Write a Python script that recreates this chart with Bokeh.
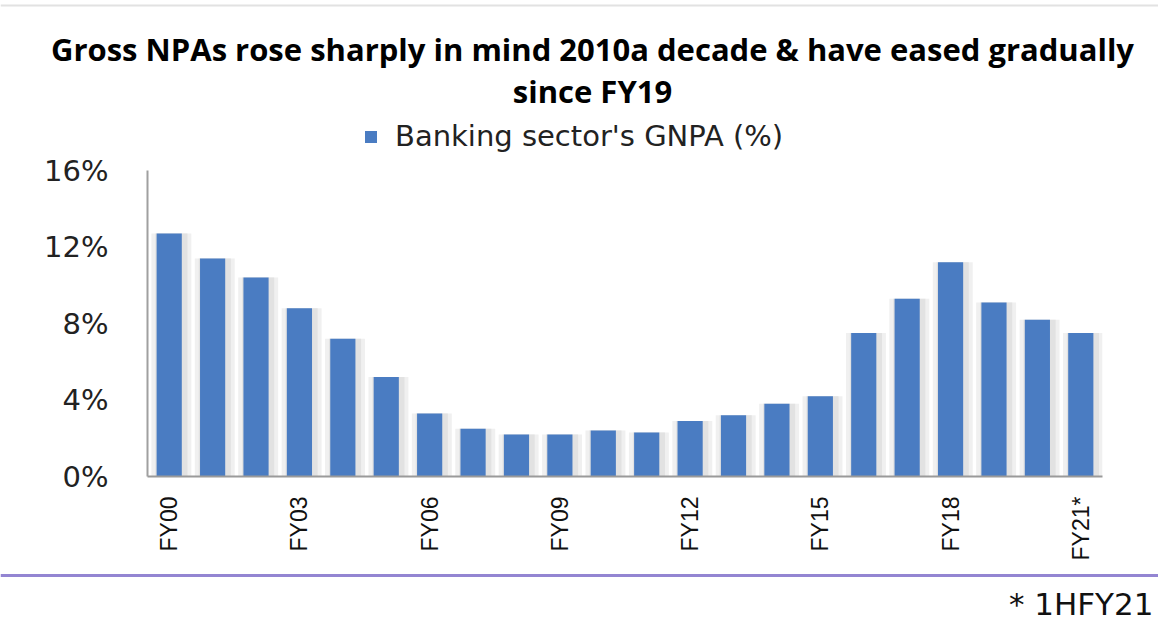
import math
from bokeh.plotting import figure
from bokeh.layouts import column
from bokeh.models import (Range1d, FixedTicker, PrintfTickFormatter, Label, Span,
                          Legend, LegendItem, ColumnDataSource)
from bokeh.transform import dodge
from bokeh.embed import file_html
from bokeh.resources import INLINE

# ---- data ----
years = ["FY00", "FY01", "FY02", "FY03", "FY04", "FY05", "FY06", "FY07", "FY08", "FY09", "FY10",
         "FY11", "FY12", "FY13", "FY14", "FY15", "FY16", "FY17", "FY18", "FY19", "FY20", "FY21*"]
gnpa = [12.7, 11.4, 10.4, 8.8, 7.2, 5.2, 3.3, 2.5, 2.2, 2.2, 2.4,
        2.3, 2.9, 3.2, 3.8, 4.2, 7.5, 9.3, 11.2, 9.1, 8.2, 7.5]
shown_labels = ["FY00", "FY03", "FY06", "FY09", "FY12", "FY15", "FY18", "FY21*"]
y_ticks = [0, 4, 8, 12, 16]
title_lines = ["Gross NPAs rose sharply in mind 2010a decade & have eased gradually", "since FY19"]
legend_label = "Banking sector's GNPA (%)"
footnote = "* 1HFY21"

W = 1158
H_HEAD, H_MAIN, H_FOOT = 110, 460, 53


def strip(h):
    fig = figure(x_range=Range1d(0, W), y_range=Range1d(0, h), width=W, height=h,
                 output_backend="svg", toolbar_location=None, x_axis_location=None,
                 y_axis_location=None, min_border=0)
    fig.frame_align = False
    fig.outline_line_color = None
    fig.xgrid.grid_line_color = None
    fig.ygrid.grid_line_color = None
    return fig


# ---- header with the two title lines ----
hd = strip(H_HEAD)
hd.add_layout(Span(location=H_HEAD - 5, dimension="width", line_color="#e2e2e2", line_width=2))
for txt, yc in zip(title_lines, [H_HEAD - 48, H_HEAD - 90]):
    hd.add_layout(Label(x=592, y=yc, text=txt, text_align="center", text_baseline="middle",
                        text_font="Open Sans", text_font_size="31px", text_font_style="bold",
                        text_color="black"))

# ---- main chart ----
MB_TOP, MB_BOT = 5, 94
frame_h = H_MAIN - MB_TOP - MB_BOT
axis_top_gap = 55                      # pixels between frame top and the 16% level
y_end = y_ticks[-1] * frame_h / (frame_h - axis_top_gap)

pos = list(range(len(years)))
src = ColumnDataSource(dict(pos=pos, year=years, gnpa=gnpa))

p = figure(x_range=Range1d(-0.5, len(years) - 0.5), y_range=Range1d(0, y_end), width=W, height=H_MAIN,
           output_backend="svg", toolbar_location=None,
           min_border_left=147, min_border_right=56, min_border_top=MB_TOP, min_border_bottom=MB_BOT)
p.frame_align = False
p.outline_line_color = None
p.xgrid.grid_line_color = None
p.ygrid.grid_line_color = None

p.vbar(x=dodge("pos", 0.05), top="gnpa", width=0.92, source=src, fill_color="#f0f0f0", line_color=None)
p.vbar(x=dodge("pos", 0.05), top="gnpa", width=0.74, source=src, fill_color="#e2e2e2", line_color=None)
bars = p.vbar(x="pos", top="gnpa", width=0.58, source=src, fill_color="#4a7cc2", line_color=None)

legend = Legend(items=[LegendItem(label=legend_label, renderers=[bars])], location=(216, 323),
                orientation="horizontal", glyph_width=15, glyph_height=15,
                label_text_font_size="29px", label_text_font="DejaVu Sans", label_text_color="#222222",
                padding=0, margin=0, spacing=0, label_standoff=17,
                border_line_color=None, background_fill_alpha=0)
p.add_layout(legend)

shown_pos = [i for i, y in enumerate(years) if y in shown_labels]
p.xaxis.ticker = FixedTicker(ticks=shown_pos)
p.xaxis.major_label_overrides = {i: years[i] for i in shown_pos}
p.xaxis.major_label_orientation = math.pi / 2
p.xaxis.major_label_text_font = "Liberation Sans"
p.xaxis.major_label_text_font_size = "23px"
p.xaxis.major_label_text_color = "#111111"
p.xaxis.major_label_standoff = 14
p.xaxis.major_tick_line_color = None
p.xaxis.minor_tick_line_color = None
p.xaxis.axis_line_color = "#9a9a9a"
p.xaxis.axis_line_width = 2

p.yaxis.ticker = FixedTicker(ticks=y_ticks)
p.yaxis.bounds = (y_ticks[0], y_ticks[-1])
p.yaxis.formatter = PrintfTickFormatter(format="%d%%")
p.yaxis.major_label_text_font = "DejaVu Sans"
p.yaxis.major_label_text_font_size = "29px"
p.yaxis.major_label_text_color = "#222222"
p.yaxis.major_label_standoff = 33
p.yaxis.major_tick_line_color = None
p.yaxis.minor_tick_line_color = None
p.yaxis.axis_line_color = "#a0a0a0"
p.yaxis.axis_line_width = 2

# ---- footer strip: purple separator and footnote ----
ft = strip(H_FOOT)
ft.add_layout(Span(location=H_FOOT - 5, dimension="width", line_color="#9385d2", line_width=3))
ft.add_layout(Label(x=W - 5, y=H_FOOT - 33, text=footnote, text_align="right", text_baseline="middle",
                    text_font="DejaVu Sans", text_font_size="31px", text_color="#111111"))

layout = column(hd, p, ft, spacing=0)
open("out.html", "w").write(file_html(layout, INLINE))
